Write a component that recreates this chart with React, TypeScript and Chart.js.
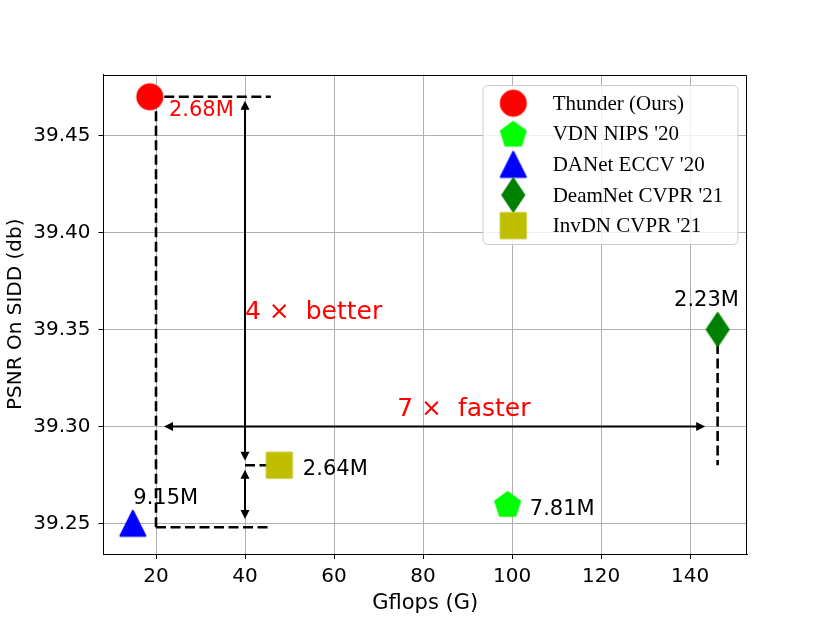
import { useEffect, useRef } from 'react';
import { Chart, registerables } from 'chart.js';

Chart.register(...registerables);

// ---- data ----
const methods = ['Thunder (Ours)', "VDN NIPS '20", "DANet ECCV '20", "DeamNet CVPR '21", "InvDN CVPR '21"];
const gflops = [18.6, 99, 14.8, 146.2, 47.7];
const psnr = [39.47, 39.26, 39.25, 39.35, 39.28];
const paramLabels = ['2.68M', '7.81M', '9.15M', '2.23M', '2.64M'];
const paramLabelX = [22.9, 104, 14.9, 136.4, 53];
const paramLabelY = [39.4603, 39.2545, 39.26, 39.362, 39.2751];
const markerColors = ['#ff0000', '#00ff00', '#0000ff', '#008000', '#bfbf00'];
const markerShapes = ['circle', 'pentagon', 'triangle', 'thinDiamond', 'square'];
const labelColors = ['#ff0000', '#000000', '#000000', '#000000', '#000000'];

const xTicks = [20, 40, 60, 80, 100, 120, 140];
const yTicks = [39.25, 39.3, 39.35, 39.4, 39.45];
const xRange = [8.2, 152.8];
const yRange = [39.2342, 39.4815];

// dashed guide segments [x1, y1, x2, y2]
const guideSegments = [
  [18.6, 39.47, 45.8, 39.47],
  [20, 39.47, 20, 39.246],
  [20, 39.248, 45.8, 39.248],
  [40, 39.28, 47.7, 39.28],
  [146.2, 39.35, 146.2, 39.28],
];

// double-headed arrows [x1, y1, x2, y2]
const arrowSegments = [
  [40, 39.468, 40, 39.2823],
  [40, 39.2776, 40, 39.2523],
  [21.8, 39.3, 143.4, 39.3],
];

const calloutTexts = ['4 ×  better', '7 ×  faster'];
const calloutX = [40, 74.2];
const calloutY = [39.3556, 39.3056];

function makeMarker(shape: string, color: string): HTMLCanvasElement {
  const c = document.createElement('canvas');
  c.width = 40;
  c.height = 40;
  const ctx = c.getContext('2d')!;
  ctx.fillStyle = color;
  ctx.strokeStyle = color;
  ctx.lineWidth = 2;
  ctx.lineJoin = 'round';
  const cx = 20;
  const cy = 20;
  ctx.beginPath();
  if (shape === 'circle') {
    ctx.arc(cx, cy, 12.5, 0, Math.PI * 2);
  } else if (shape === 'pentagon') {
    const r = 13.1;
    const oy = 1.25;
    for (let i = 0; i < 5; i++) {
      const a = -Math.PI / 2 + (i * 2 * Math.PI) / 5;
      const px = cx + r * Math.cos(a);
      const py = cy + oy + r * Math.sin(a);
      if (i === 0) ctx.moveTo(px, py);
      else ctx.lineTo(px, py);
    }
  } else if (shape === 'triangle') {
    ctx.moveTo(cx, cy - 12.5);
    ctx.lineTo(cx - 12.5, cy + 12.5);
    ctx.lineTo(cx + 12.5, cy + 12.5);
  } else if (shape === 'thinDiamond') {
    ctx.moveTo(cx, cy - 16.5);
    ctx.lineTo(cx + 11, cy);
    ctx.lineTo(cx, cy + 16.5);
    ctx.lineTo(cx - 11, cy);
  } else {
    ctx.rect(cx - 12.5, cy - 12.5, 25, 25);
  }
  ctx.closePath();
  ctx.fill();
  ctx.stroke();
  return c;
}

function drawArrowHead(ctx: CanvasRenderingContext2D, tx: number, ty: number, ux: number, uy: number) {
  const len = 9;
  const hw = 4.5;
  const bx = tx - ux * len;
  const by = ty - uy * len;
  ctx.beginPath();
  ctx.moveTo(tx, ty);
  ctx.lineTo(bx - uy * hw, by + ux * hw);
  ctx.lineTo(bx + uy * hw, by - ux * hw);
  ctx.closePath();
  ctx.fill();
}

export default function App() {
  const ref = useRef<HTMLCanvasElement | null>(null);

  useEffect(() => {
    document.body.style.margin = '0';
    const canvas = ref.current;
    if (!canvas) return;
    const markers = markerShapes.map((s, i) => makeMarker(s, markerColors[i]));

    const markerDatasets = methods.map((m, i) => ({
      label: m,
      data: [{ x: gflops[i], y: psnr[i] }],
      pointStyle: markers[i] as any,
      pointRadius: 13.5,
      pointHoverRadius: 13.5,
      backgroundColor: markerColors[i],
      borderColor: markerColors[i],
      showLine: false,
      order: 0,
    }));

    const guideDatasets = guideSegments.map((s, i) => ({
      label: 'guide' + i,
      data: [
        { x: s[0], y: s[1] },
        { x: s[2], y: s[3] },
      ],
      showLine: true,
      borderColor: '#000000',
      borderWidth: 2.6,
      borderDash: [10, 4.5],
      pointRadius: 0,
      pointHoverRadius: 0,
      order: 2,
    }));

    const overlay = {
      id: 'overlay',
      afterDatasetsDraw(chart: any) {
        const ctx: CanvasRenderingContext2D = chart.ctx;
        const xs = chart.scales.x;
        const ys = chart.scales.y;
        const area = chart.chartArea;
        ctx.save();
        // top/right spines
        ctx.strokeStyle = '#000';
        ctx.lineWidth = 1;
        ctx.beginPath();
        const t = Math.round(area.top) + 0.5;
        const r = Math.round(area.right) - 0.5;
        ctx.moveTo(area.left, t);
        ctx.lineTo(r, t);
        ctx.lineTo(r, area.bottom);
        ctx.stroke();

        // arrows
        ctx.fillStyle = '#000';
        ctx.strokeStyle = '#000';
        ctx.lineWidth = 2;
        arrowSegments.forEach((s) => {
          const x1 = xs.getPixelForValue(s[0]);
          const y1 = ys.getPixelForValue(s[1]);
          const x2 = xs.getPixelForValue(s[2]);
          const y2 = ys.getPixelForValue(s[3]);
          const d = Math.hypot(x2 - x1, y2 - y1);
          const ux = (x2 - x1) / d;
          const uy = (y2 - y1) / d;
          ctx.beginPath();
          ctx.moveTo(x1 + ux * 6, y1 + uy * 6);
          ctx.lineTo(x2 - ux * 6, y2 - uy * 6);
          ctx.stroke();
          drawArrowHead(ctx, x2, y2, ux, uy);
          drawArrowHead(ctx, x1, y1, -ux, -uy);
        });

        // parameter labels
        ctx.textAlign = 'left';
        ctx.textBaseline = 'alphabetic';
        ctx.font = "21px 'DejaVu Sans'";
        paramLabels.forEach((txt, i) => {
          ctx.fillStyle = labelColors[i];
          ctx.fillText(txt, xs.getPixelForValue(paramLabelX[i]), ys.getPixelForValue(paramLabelY[i]));
        });
        // callouts
        ctx.font = "25px 'DejaVu Sans'";
        ctx.fillStyle = '#ff0000';
        calloutTexts.forEach((txt, i) => {
          ctx.fillText(txt, xs.getPixelForValue(calloutX[i]), ys.getPixelForValue(calloutY[i]));
        });
        ctx.restore();
      },
      afterDraw(chart: any) {
        const ctx: CanvasRenderingContext2D = chart.ctx;
        const area = chart.chartArea;
        const w = 255;
        const h = 159;
        const left = area.right - 9 - w;
        const top = area.top + 11;
        const rad = 5;
        ctx.save();
        ctx.beginPath();
        ctx.moveTo(left + rad, top);
        ctx.lineTo(left + w - rad, top);
        ctx.arcTo(left + w, top, left + w, top + rad, rad);
        ctx.lineTo(left + w, top + h - rad);
        ctx.arcTo(left + w, top + h, left + w - rad, top + h, rad);
        ctx.lineTo(left + rad, top + h);
        ctx.arcTo(left, top + h, left, top + h - rad, rad);
        ctx.lineTo(left, top + rad);
        ctx.arcTo(left, top, left + rad, top, rad);
        ctx.closePath();
        ctx.fillStyle = 'rgba(255,255,255,0.8)';
        ctx.fill();
        ctx.strokeStyle = '#cccccc';
        ctx.lineWidth = 1;
        ctx.stroke();
        ctx.font = "21px 'Liberation Serif'";
        ctx.fillStyle = '#000';
        ctx.textAlign = 'left';
        ctx.textBaseline = 'middle';
        methods.forEach((m, i) => {
          const cy = top + 17.7 + i * 30.6;
          const mk = markers[i];
          ctx.drawImage(mk, left + 30.3 - mk.width / 2, cy - mk.height / 2);
          ctx.fillText(m, left + 69.7, cy + 1);
        });
        ctx.restore();
      },
    };

    const chart = new Chart(canvas, {
      type: 'scatter',
      data: { datasets: [...markerDatasets, ...guideDatasets] as any },
      options: {
        animation: false,
        responsive: false,
        devicePixelRatio: 1,
        events: [],
        layout: { padding: { left: 0, top: 74.5, right: 83, bottom: 0 } },
        plugins: { legend: { display: false }, tooltip: { enabled: false } },
        scales: {
          x: {
            type: 'linear',
            position: 'bottom',
            min: xRange[0],
            max: xRange[1],
            afterFit: (s: any) => {
              s.height = 69;
            },
            afterBuildTicks: (s: any) => {
              s.ticks = xTicks.map((v) => ({ value: v }));
            },
            grid: { color: '#b0b0b0', lineWidth: 1, tickColor: '#000', tickLength: 5, drawTicks: true },
            border: { display: true, color: '#000', width: 1 },
            ticks: {
              color: '#000',
              font: { family: 'DejaVu Sans', size: 20, lineHeight: 1.2 },
              padding: 6,
              maxRotation: 0,
              autoSkip: false,
              callback: (v: any) => String(v),
            },
            title: {
              display: true,
              text: 'Gflops (G)',
              color: '#000',
              font: { family: 'DejaVu Sans', size: 21, lineHeight: 1.2 },
              padding: { top: 0, bottom: 6.5 },
            },
          },
          y: {
            type: 'linear',
            position: 'left',
            min: yRange[0],
            max: yRange[1],
            afterFit: (s: any) => {
              s.width = 103.5;
            },
            afterBuildTicks: (s: any) => {
              s.ticks = yTicks.map((v) => ({ value: v }));
            },
            grid: { color: '#b0b0b0', lineWidth: 1, tickColor: '#000', tickLength: 5, drawTicks: true },
            border: { display: true, color: '#000', width: 1 },
            ticks: {
              color: '#000',
              font: { family: 'DejaVu Sans', size: 20, lineHeight: 1.2 },
              padding: 8,
              autoSkip: false,
              callback: (v: any) => Number(v).toFixed(2),
            },
            title: {
              display: true,
              text: 'PSNR On SIDD (db)',
              color: '#000',
              font: { family: 'DejaVu Sans', size: 20, lineHeight: 1.2 },
              padding: { top: 4, bottom: 0 },
            },
          },
        },
      },
      plugins: [overlay],
    });
    return () => chart.destroy();
  }, []);

  return (
    <div style={{ width: 830, height: 623, background: '#fff' }}>
      <canvas ref={ref} width={830} height={623} style={{ display: 'block' }} />
    </div>
  );
}
